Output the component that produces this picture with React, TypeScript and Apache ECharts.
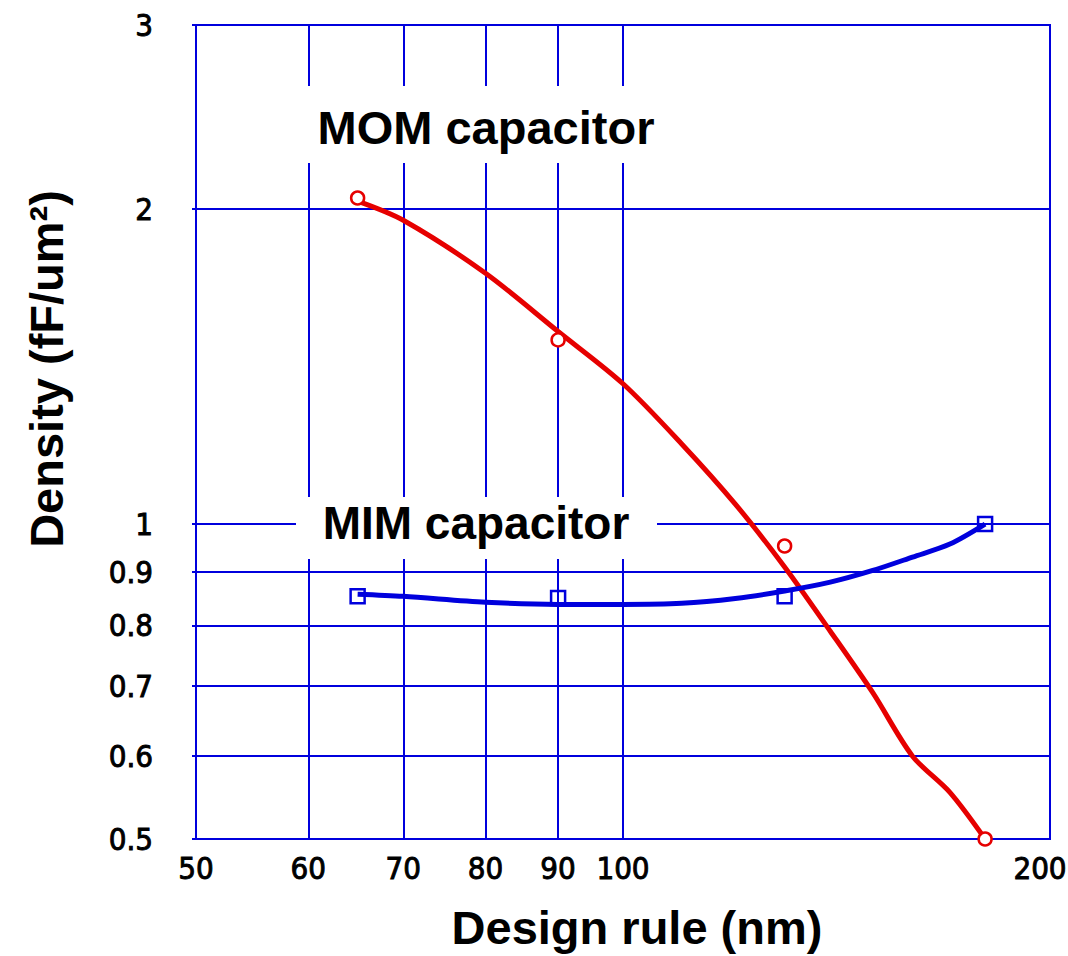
import React, { useEffect, useRef } from "react";
import * as echarts from "echarts";

const X_TICKS = [50, 60, 70, 80, 90, 100, 200];
const Y_TICKS = [0.5, 0.6, 0.7, 0.8, 0.9, 1, 2, 3];

const MEAS_X = [65, 90, 130, 180];
const MOM_MEAS = [2.05, 1.5, 0.953, 0.5];
const MIM_MEAS = [0.853, 0.85, 0.853, 1.0];

const CURVE_X = [65, 70, 80, 90, 100, 110, 120, 130, 140, 150, 160, 170, 180];
const MOM_CURVE = [2.036, 1.952, 1.737, 1.528, 1.362, 1.193, 1.045, 0.91, 0.79, 0.69, 0.6, 0.554, 0.5];
const MIM_CURVE = [0.857, 0.853, 0.842, 0.838, 0.838, 0.84, 0.849, 0.863, 0.88, 0.903, 0.93, 0.957, 1.0];

const GRID_BLUE = "#0000dd";
const RED = "#e60000";
const LINE_BLUE = "#0000dd";

const lg = (v: number) => Math.log10(v);
const findTick = (ticks: number[], v: number) => {
  const t = ticks.find((t) => Math.abs(lg(t) - v) < 1e-6);
  return t === undefined ? "" : String(t);
};

const TICK_FONT = "'DejaVu Sans Condensed', 'DejaVu Sans', sans-serif";
const TITLE_FONT = "'Liberation Sans', Arial, sans-serif";

const tickText = {
  fontFamily: TICK_FONT,
  fontSize: 31,
  fontWeight: "normal",
  color: "#000",
  textBorderColor: "#000",
  textBorderWidth: 0.9,
};

export default function App() {
  const ref = useRef<HTMLDivElement>(null);
  useEffect(() => {
    if (!ref.current) return;
    const chart = echarts.init(ref.current, undefined, { renderer: "svg" });
    const pairs = (xs: number[], ys: number[]) => xs.map((x, i) => [lg(x), lg(ys[i])]);
    const xMax = X_TICKS[X_TICKS.length - 1];
    chart.setOption({
      animation: false,
      backgroundColor: "#ffffff",
      grid: {
        left: 196,
        right: 18,
        top: 25,
        bottom: 117,
        containLabel: false,
        outerBoundsMode: "none",
        show: true,
        borderColor: GRID_BLUE,
        borderWidth: 2,
      },
      xAxis: {
        type: "value",
        min: lg(50),
        max: lg(200),
        axisLine: { show: true, lineStyle: { color: GRID_BLUE, width: 2 } },
        axisTick: {
          show: true,
          inside: false,
          length: 4,
          customValues: X_TICKS.map(lg),
          lineStyle: { color: GRID_BLUE, width: 2 },
        },
        splitLine: { show: true, lineStyle: { color: GRID_BLUE, width: 2 } },
        axisLabel: {
          customValues: X_TICKS.map(lg),
          formatter: (v: number) => {
            const s = findTick(X_TICKS, v);
            return s === String(xMax) ? `{m|${s}}` : s;
          },
          ...tickText,
          rich: {
            m: { ...tickText, padding: [0, 20, 0, 0] },
          },
          margin: 13,
          hideOverlap: false,
        },
      },
      yAxis: {
        type: "value",
        min: lg(0.5),
        max: lg(3),
        axisLine: { show: true, lineStyle: { color: GRID_BLUE, width: 2 } },
        axisTick: {
          show: true,
          inside: false,
          length: 4,
          customValues: Y_TICKS.map(lg),
          lineStyle: { color: GRID_BLUE, width: 2 },
        },
        splitLine: { show: true, lineStyle: { color: GRID_BLUE, width: 2 } },
        axisLabel: {
          customValues: Y_TICKS.map(lg),
          formatter: (v: number) => findTick(Y_TICKS, v),
          ...tickText,
          margin: 43,
          hideOverlap: false,
        },
      },
      series: [
        {
          name: "MOM fit",
          type: "line",
          data: pairs(CURVE_X, MOM_CURVE),
          smooth: 0.3,
          showSymbol: false,
          lineStyle: { color: RED, width: 5 },
          z: 3,
        },
        {
          name: "MIM fit",
          type: "line",
          data: pairs(CURVE_X, MIM_CURVE),
          smooth: 0.3,
          showSymbol: false,
          lineStyle: { color: LINE_BLUE, width: 5 },
          z: 3,
        },
        {
          name: "MOM capacitor",
          type: "scatter",
          data: pairs(MEAS_X, MOM_MEAS),
          symbol: "circle",
          symbolSize: 13,
          itemStyle: { color: "#ffffff", borderColor: RED, borderWidth: 2.5, opacity: 1 },
          z: 4,
        },
        {
          name: "MIM capacitor",
          type: "scatter",
          data: pairs(MEAS_X, MIM_MEAS),
          symbol: "rect",
          symbolSize: 14,
          itemStyle: { color: "rgba(0,0,0,0)", borderColor: LINE_BLUE, borderWidth: 2.5, opacity: 1 },
          z: 4,
        },
      ],
      graphic: [
        {
          type: "rect",
          z: 100,
          shape: { x: 300, y: 86, width: 360, height: 77 },
          style: { fill: "#ffffff" },
        },
        {
          type: "text",
          z: 101,
          x: 486,
          y: 127,
          style: {
            text: "MOM capacitor",
            font: `bold 47px ${TITLE_FONT}`,
            fill: "#000",
            align: "center",
            verticalAlign: "middle",
          },
        },
        {
          type: "rect",
          z: 100,
          shape: { x: 296, y: 497, width: 361, height: 62 },
          style: { fill: "#ffffff" },
        },
        {
          type: "text",
          z: 101,
          x: 476,
          y: 523,
          style: {
            text: "MIM capacitor",
            font: `bold 46px ${TITLE_FONT}`,
            fill: "#000",
            align: "center",
            verticalAlign: "middle",
          },
        },
        {
          type: "text",
          z: 101,
          x: 46,
          y: 369,
          rotation: Math.PI / 2,
          style: {
            text: "Density (fF/um²)",
            font: `bold 47px ${TITLE_FONT}`,
            fill: "#000",
            align: "center",
            verticalAlign: "middle",
          },
        },
        {
          type: "text",
          z: 101,
          x: 637,
          y: 927,
          style: {
            text: "Design rule (nm)",
            font: `bold 47px ${TITLE_FONT}`,
            fill: "#000",
            align: "center",
            verticalAlign: "middle",
          },
        },
      ],
    });
    return () => chart.dispose();
  }, []);
  return (
    <div
      ref={ref}
      style={{ position: "absolute", left: 0, top: 0, width: 1068, height: 956, background: "#fff" }}
    />
  );
}
